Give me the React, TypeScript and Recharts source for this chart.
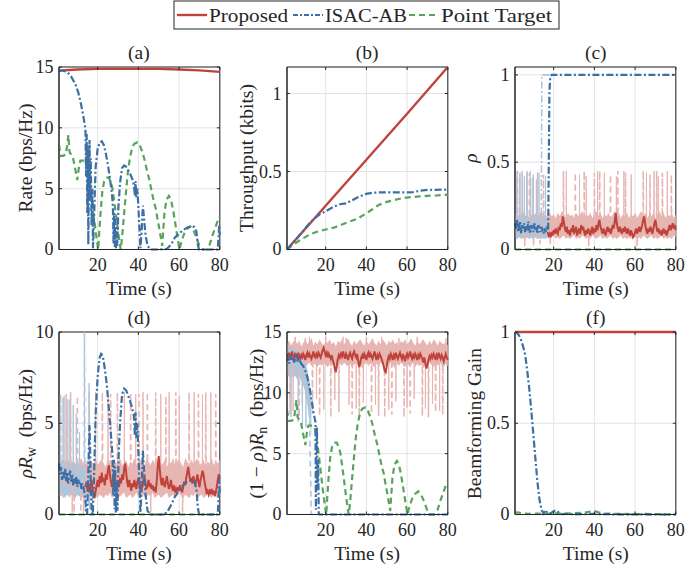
import React from 'react';
import { ComposedChart, Line, Area, XAxis, YAxis, CartesianGrid, ReferenceArea } from 'recharts';

// ---------- colours & styles ----------
const RED = '#c0433b';
const BLUE = '#3b6fa5';
const GREEN = '#5aa35a';
const PINK = '#e8b6b2';
const LBLUE = '#aec6dc';
const DASHDOT = '7 2.5 2 2.5';
const DASH = '6 4';
const TXT = '#262626';
const FONT = 'Liberation Serif';

// ---------- shared axis data ----------
const xTicks = [20, 40, 60, 80];
const xDomain = [1, 80];

// ---------- panel (a): rate ----------
const aRed = [[1, 14.7], [10, 14.8], [20, 14.85], [30, 14.85], [40, 14.85], [50, 14.85], [60, 14.8], [70, 14.72], [80, 14.6]];
const aBlue = [[1, 14.7], [3, 14.7], [5, 14.6], [7, 14.2], [9, 13.6], [10.5, 12.9], [12, 11.8], [13, 10.9], [14, 9.9], [14.3, 6], [14.6, 9.5], [14.9, 3], [15.2, 8.5], [15.4, 0.4], [15.7, 6], [16, 9], [16.3, 4], [16.6, 7.5], [17, 2], [17.4, 5], [17.7, 0.1], [18.2, 2.5], [19, 6.8], [20, 8.3], [21, 8.8], [22, 8.9], [23, 8.6], [24, 7.9], [25, 7.0], [26, 5.9], [27, 4.6], [27.5, 3.5], [27.8, 0.5], [28.1, 3.0], [28.4, 0.2], [28.7, 2.5], [29, 0.1], [29.3, 1.5], [29.6, 0.3], [30.2, 3.5], [31, 5.5], [32, 6.7], [33, 6.9], [34, 6.8], [35, 6.5], [36, 6.2], [37, 5.8], [37.8, 5.3], [38.3, 4.4], [38.6, 5.6], [39, 4.3], [39.5, 5.0], [40, 3.5], [40.5, 1.8], [41, 0.1], [41.6, 1.5], [42.2, 3.6], [42.8, 2.5], [43.5, 1.2], [44.5, 0.3], [46, 0], [50, 0], [54, 0.05], [56, 0.4], [58, 1.0], [60, 1.3], [62, 1.6], [64, 1.8], [66, 1.9], [67.5, 1.85], [68.5, 1.5], [69.2, 0.4], [69.8, 0], [79, 0], [79.4, 1.0], [79.7, 2.0], [80, 1.2]];
const ptGreen = [[1, 8.6], [1.8, 7.7], [3, 7.7], [4.3, 7.8], [5, 8.5], [5.6, 9.4], [6.2, 8.0], [7, 7.8], [7.8, 7.6], [8.5, 7.0], [9.2, 6.4], [10, 5.7], [10.8, 6.8], [11.5, 7.3], [12.5, 7.3], [14, 7.3], [15, 6.9], [15.8, 5.9], [16.6, 4.9], [17.4, 3.8], [18.2, 2.6], [19, 1.5], [19.8, 0.5], [20.3, 0], [20.8, 1.5], [21.5, 3.2], [22.3, 4.8], [23.2, 5.6], [24.2, 5.9], [25.5, 5.9], [26.5, 5.5], [27.3, 5.0], [28, 4.1], [28.9, 3.0], [29.7, 1.9], [30.5, 0.9], [31.3, 0], [32, 1.0], [32.8, 2.6], [33.8, 4.5], [34.8, 6.3], [35.8, 7.5], [37, 8.4], [38, 8.7], [39.5, 8.8], [40.8, 8.5], [42, 8.0], [43, 7.4], [44.2, 6.5], [45.3, 5.8], [46.5, 4.8], [47.5, 4.0], [48.5, 3.4], [49.3, 2.6], [50.2, 1.8], [51, 1.0], [51.7, 0.3], [52.2, 1.5], [52.8, 3.0], [53.8, 4.1], [55, 4.4], [56, 4.1], [57, 3.3], [58, 2.3], [59, 1.2], [60.2, 0], [61.2, 0.7], [62.5, 1.3], [64, 1.7], [65.5, 1.9], [67, 1.6], [68.5, 1.0], [70, 0.3], [71.5, 0], [73.5, 0], [75, 0.4], [76.5, 1.2], [78, 1.9], [79.3, 2.5], [80, 2.7]];

// ---------- panel (b): throughput ----------
const bRed = [[1, 0], [20, 0.28], [40, 0.575], [60, 0.87], [80, 1.17]];
const bBlue = [[1, 0], [5, 0.06], [9, 0.12], [12.5, 0.175], [15, 0.205], [17.4, 0.228], [20, 0.245], [24, 0.275], [27, 0.29], [30, 0.296], [33, 0.315], [36, 0.337], [40, 0.357], [43, 0.364], [46, 0.366], [55, 0.366], [60, 0.366], [63, 0.368], [66, 0.376], [70, 0.382], [80, 0.384]];
const bGreen = [[1, 0], [4, 0.03], [8, 0.065], [12, 0.095], [16, 0.115], [20, 0.128], [24, 0.14], [28, 0.16], [32, 0.18], [36, 0.2], [40, 0.232], [43, 0.258], [46, 0.285], [50, 0.305], [54, 0.318], [58, 0.33], [62, 0.336], [66, 0.34], [70, 0.344], [75, 0.347], [80, 0.352]];

// ---------- panel (c): rho ----------
const cPinkLo = [0.07, 0.06, 0.08, 0.07, 0.06, 0.07, 0.08, 0.06, 0.07, 0.06, 0.08, 0.07, 0.06, 0.07, 0.06, 0.08, 0.07, 0.06, 0.07, 0.08, 0.06, 0.07, 0.06, 0.07, 0.08, 0.06, 0.07, 0.06, 0.07, 0.08, 0.06, 0.07, 0.06, 0.08, 0.07, 0.06, 0.07, 0.06, 0.08, 0.07, 0.06, 0.07, 0.08, 0.06, 0.07, 0.06, 0.07, 0.08, 0.06, 0.07, 0.06, 0.07, 0.08, 0.06, 0.07, 0.06, 0.07, 0.06, 0.08, 0.07, 0.06, 0.07, 0.06, 0.08, 0.07, 0.06, 0.07, 0.08, 0.06, 0.07, 0.06, 0.07, 0.08, 0.06, 0.07, 0.06, 0.07, 0.06, 0.08, 0.07];
const cPinkHi = [0.19, 0.21, 0.18, 0.20, 0.22, 0.19, 0.21, 0.18, 0.20, 0.19, 0.21, 0.18, 0.20, 0.22, 0.19, 0.18, 0.20, 0.21, 0.19, 0.20, 0.18, 0.21, 0.19, 0.22, 0.20, 0.18, 0.21, 0.19, 0.20, 0.18, 0.21, 0.19, 0.20, 0.22, 0.18, 0.20, 0.19, 0.21, 0.18, 0.20, 0.22, 0.19, 0.21, 0.18, 0.20, 0.19, 0.21, 0.18, 0.20, 0.22, 0.19, 0.21, 0.18, 0.20, 0.19, 0.21, 0.18, 0.20, 0.19, 0.21, 0.18, 0.20, 0.22, 0.19, 0.21, 0.18, 0.20, 0.19, 0.21, 0.18, 0.20, 0.22, 0.19, 0.21, 0.18, 0.20, 0.19, 0.21, 0.18, 0.20];
const cLBlueLo = [0.07, 0.06, 0.07, 0.06, 0.08, 0.06, 0.07, 0.06, 0.07, 0.06, 0.07, 0.06, 0.07, 0.06, 0.07, 0.06, 0.07];
const cLBlueHi = [0.21, 0.19, 0.20, 0.18, 0.21, 0.19, 0.20, 0.18, 0.19, 0.21, 0.18, 0.20, 0.19, 0.18, 0.20, 0.19, 0.18];
const cPinkDash = [[1, 0.1], [2.1, 0.1], [2.2, 0.45], [2.4, 0.1], [5.7, 0.1], [5.8, 0.02], [6.0, 0.1], [8.0, 0.1], [8.1, 0.44], [8.3, 0.1], [10.0, 0.1], [10.1, 0.02], [10.3, 0.1], [13.2, 0.1], [13.3, 0.03], [13.5, 0.1], [14.9, 0.1], [15.0, 0.43], [15.2, 0.1], [18.2, 0.1], [18.3, 0.03], [18.5, 0.1], [24.7, 0.1], [24.8, 0.45], [25.0, 0.1], [30.5, 0.1], [30.6, 0.44], [30.8, 0.1], [34.9, 0.1], [35.0, 0.45], [35.2, 0.1], [37.1, 0.1], [37.2, 0.02], [37.4, 0.1], [39.9, 0.1], [40.0, 0.44], [40.2, 0.1], [42.5, 0.1], [42.6, 0.45], [42.8, 0.1], [47.8, 0.1], [47.9, 0.43], [48.1, 0.1], [51.4, 0.1], [51.5, 0.45], [51.7, 0.1], [55.2, 0.1], [55.3, 0.44], [55.5, 0.1], [60.9, 0.1], [61.0, 0.02], [61.2, 0.1], [63.9, 0.1], [64.0, 0.45], [64.2, 0.1], [67.2, 0.1], [67.3, 0.43], [67.5, 0.1], [70.5, 0.1], [70.6, 0.45], [70.8, 0.1], [73.3, 0.1], [73.4, 0.44], [73.6, 0.1], [77.7, 0.1], [77.8, 0.43], [78.0, 0.1], [80, 0.1]];
const cPinkSolid = [[1, 0.12], [1.6, 0.12], [1.7, 0.42], [1.8, 0.12], [3.4, 0.12], [3.5, 0.44], [3.6, 0.12], [4.6, 0.12], [4.7, 0.4], [4.8, 0.12], [6.9, 0.12], [7.0, 0.45], [7.1, 0.12], [9.4, 0.12], [9.5, 0.41], [9.6, 0.12], [11.9, 0.12], [12.0, 0.44], [12.1, 0.12], [26.1, 0.12], [26.2, 0.45], [26.3, 0.12], [32.6, 0.12], [32.7, 0.43], [32.8, 0.12], [35.9, 0.12], [36.0, 0.42], [36.1, 0.12], [41.5, 0.12], [41.6, 0.45], [41.7, 0.12], [44.8, 0.12], [44.9, 0.44], [45.0, 0.12], [50.7, 0.12], [50.8, 0.42], [50.9, 0.12], [54.4, 0.12], [54.5, 0.45], [54.6, 0.12], [58.0, 0.12], [58.1, 0.43], [58.2, 0.12], [65.5, 0.12], [65.6, 0.44], [65.7, 0.12], [69.2, 0.12], [69.3, 0.45], [69.4, 0.12], [71.3, 0.12], [71.4, 0.42], [71.5, 0.12], [75.7, 0.12], [75.8, 0.45], [75.9, 0.12], [80, 0.12]];
const cLBlueSpk = [[1, 0.12], [1.9, 0.12], [2.0, 0.45], [2.1, 0.12], [3.1, 0.12], [3.2, 0.43], [3.3, 0.12], [4.4, 0.12], [4.5, 0.45], [4.6, 0.12], [5.5, 0.12], [5.6, 0.42], [5.7, 0.12], [6.7, 0.12], [6.8, 0.44], [6.9, 0.12], [8.4, 0.12], [8.5, 0.45], [8.6, 0.12], [9.9, 0.12], [10.0, 0.43], [10.1, 0.12], [11.4, 0.12], [11.5, 0.4], [11.6, 0.12], [12.7, 0.12], [12.8, 0.44], [12.9, 0.12], [15.9, 0.12], [16.0, 0.42], [16.1, 0.12], [17.2, 0.12]];
const cLBlueJump = [[13.9, 0.12], [14.2, 1.0], [19, 1.0]];
const cRedMean = [0.10, 0.08, 0.09, 0.07, 0.10, 0.08, 0.11, 0.09, 0.12, 0.10, 0.09, 0.13, 0.11, 0.15, 0.13, 0.19, 0.16, 0.12, 0.10, 0.13, 0.09, 0.11, 0.08, 0.12, 0.10, 0.14, 0.09, 0.11, 0.13, 0.08, 0.10, 0.12, 0.09, 0.14, 0.11, 0.13, 0.10, 0.08, 0.11, 0.09, 0.12, 0.10, 0.08, 0.11, 0.13, 0.09, 0.12, 0.10, 0.14, 0.11, 0.15, 0.17, 0.13, 0.11, 0.09, 0.12, 0.10, 0.08, 0.11, 0.13, 0.10, 0.12, 0.09, 0.11, 0.14, 0.12, 0.16, 0.21, 0.15, 0.12, 0.10, 0.13, 0.11, 0.09, 0.12, 0.10, 0.13, 0.11, 0.09, 0.12, 0.10, 0.08, 0.11, 0.09, 0.07, 0.08, 0.10, 0.12, 0.09, 0.11, 0.13, 0.10, 0.12, 0.14, 0.17, 0.19, 0.14, 0.11, 0.09, 0.12, 0.10, 0.13, 0.11, 0.09, 0.12, 0.15, 0.17, 0.13, 0.10, 0.12, 0.09, 0.11, 0.08, 0.10, 0.12, 0.09, 0.11, 0.08, 0.10, 0.12, 0.14, 0.11, 0.13, 0.15, 0.12, 0.14, 0.11];
const cBlueNoisy = [0.15, 0.12, 0.17, 0.10, 0.13, 0.16, 0.09, 0.14, 0.12, 0.15, 0.10, 0.13, 0.11, 0.16, 0.12, 0.09, 0.14, 0.12, 0.10, 0.15, 0.11, 0.13, 0.09, 0.14, 0.12, 0.10, 0.13, 0.11, 0.09, 0.12, 0.10, 0.13, 0.11];
const cBlueTail = [[17.3, 0.12], [17.6, 0.5], [17.9, 0.9], [18.3, 0.985], [19, 1], [80, 1]];
const zeroLine = [[1, 0], [80, 0]];

// ---------- panel (d): rho * R_w ----------
const dPinkLo = [1.0, 1.1, 0.9, 1.0, 1.2, 0.9, 1.1, 1.0, 0.9, 1.1, 1.0, 1.2, 0.9, 1.0, 1.1, 0.9, 1.0, 1.2, 1.0, 0.9, 1.1, 1.0, 0.9, 1.1, 1.0, 1.2, 0.9, 1.0, 1.1, 0.9, 1.0, 1.1, 1.2, 0.9, 1.0, 1.1, 0.9, 1.0, 1.2, 1.0, 0.9, 1.1, 1.0, 0.9, 1.1, 1.0, 1.2, 0.9, 1.0, 1.1, 0.9, 1.0, 1.1, 1.2, 0.9, 1.0, 1.1, 0.9, 1.0, 1.2, 1.0, 0.9, 1.1, 1.0, 0.9, 1.1, 1.0, 1.2, 0.9, 1.0, 1.1, 0.9, 1.0, 1.2, 1.0, 0.9, 1.1, 1.0, 0.9, 1.1];
const dPinkHi = [2.8, 3.0, 2.7, 2.9, 3.1, 2.8, 2.6, 3.0, 2.8, 2.7, 2.9, 3.1, 2.7, 2.8, 3.0, 2.6, 2.9, 2.8, 3.1, 2.7, 2.9, 3.0, 2.8, 2.6, 3.1, 2.9, 2.7, 3.0, 2.8, 2.9, 3.1, 2.7, 2.8, 3.0, 2.6, 2.9, 2.8, 3.1, 2.7, 2.9, 3.0, 2.8, 2.6, 3.1, 2.9, 2.7, 3.0, 2.8, 2.9, 3.1, 2.7, 2.8, 3.0, 2.6, 2.9, 2.8, 3.1, 2.7, 2.9, 3.0, 2.8, 2.6, 3.1, 2.9, 2.7, 3.0, 2.8, 2.9, 3.1, 2.7, 2.8, 3.0, 2.6, 2.9, 2.8, 3.1, 2.7, 2.9, 2.8, 3.0];
const dLBlueLo = [1.1, 1.0, 1.2, 0.9, 1.1, 1.0, 1.2, 1.0, 0.9, 1.1, 1.0, 0.9, 1.0, 1.1];
const dLBlueHi = [3.1, 2.9, 3.0, 2.8, 3.1, 2.7, 2.9, 2.8, 2.6, 2.8, 2.5, 2.7, 2.4, 2.3];
const dPinkDash = [[1, 1.8], [1.7, 1.8], [1.8, 6.6], [2.0, 1.8], [6.6, 1.8], [6.7, 6.7], [6.9, 1.8], [8.3, 1.8], [8.4, 0.1], [8.6, 1.8], [9.9, 1.8], [10.0, 6.5], [10.2, 1.8], [11.6, 1.8], [11.7, 0.1], [11.9, 1.8], [15.7, 1.8], [15.8, 6.7], [16.0, 1.8], [17.3, 1.8], [17.4, 0.1], [17.6, 1.8], [22.2, 1.8], [22.3, 6.7], [22.5, 1.8], [26.3, 1.8], [26.4, 6.6], [26.6, 1.8], [29.6, 1.8], [29.7, 6.7], [29.9, 1.8], [36.1, 1.8], [36.2, 6.7], [36.4, 1.8], [40.2, 1.8], [40.3, 6.6], [40.5, 1.8], [44.3, 1.8], [44.4, 6.7], [44.6, 1.8], [48.4, 1.8], [48.5, 6.7], [48.7, 1.8], [53.4, 1.8], [53.5, 6.5], [53.7, 1.8], [58.3, 1.8], [58.4, 6.7], [58.6, 1.8], [61.6, 1.8], [61.7, 0.1], [61.9, 1.8], [64.8, 1.8], [64.9, 6.7], [65.1, 1.8], [69.4, 1.8], [69.5, 6.6], [69.7, 1.8], [73.0, 1.8], [73.1, 6.7], [73.3, 1.8], [77.9, 1.8], [78.0, 6.6], [78.2, 1.8], [80, 1.8]];
const dPinkSolid = [[1, 1.6], [3.4, 1.6], [3.5, 6.5], [3.6, 1.6], [4.9, 1.6], [5.0, 6.3], [5.1, 1.6], [7.4, 1.6], [7.5, 0.1], [7.6, 1.6], [12.9, 1.6], [13.0, 0.1], [13.1, 1.6], [18.9, 1.6], [19.0, 6.7], [19.1, 1.6], [25.0, 1.6], [25.1, 6.5], [25.2, 1.6], [33.0, 1.6], [33.1, 6.7], [33.2, 1.6], [38.6, 1.6], [38.7, 6.6], [38.8, 1.6], [42.2, 1.6], [42.3, 6.7], [42.4, 1.6], [46.0, 1.6], [46.1, 0.1], [46.2, 1.6], [50.9, 1.6], [51.0, 6.6], [51.1, 1.6], [55.0, 1.6], [55.1, 6.7], [55.2, 1.6], [60.0, 1.6], [60.1, 6.5], [60.2, 1.6], [67.3, 1.6], [67.4, 6.7], [67.5, 1.6], [71.4, 1.6], [71.5, 6.6], [71.6, 1.6], [75.5, 1.6], [75.6, 6.7], [75.7, 1.6], [80, 1.6]];
const dLBlueSpk = [[1, 1.9], [1.4, 1.9], [1.5, 6.6], [1.6, 1.9], [2.9, 1.9], [3.0, 6.4], [3.1, 1.9], [4.4, 1.9], [4.5, 6.6], [4.6, 1.9], [5.9, 1.9], [6.0, 6.3], [6.1, 1.9], [7.9, 1.9], [8.0, 6.0], [8.1, 1.9], [9.4, 1.9], [9.5, 5.5], [9.6, 1.9], [11.0, 1.9], [11.1, 4.5], [11.2, 1.9], [14, 1.5], [15.6, 0.5], [15.8, 7.2], [16.0, 0.3]];
const dLBlueJump = [[13.3, 1.5], [13.5, 10], [13.8, 0.2]];
const dRedMean = [1.5, 1.8, 1.3, 1.7, 1.2, 1.6, 1.9, 1.4, 1.1, 0.9, 1.3, 1.6, 1.9, 1.5, 2.1, 1.7, 2.3, 1.8, 2.0, 1.6, 2.2, 1.9, 2.4, 2.7, 2.2, 1.8, 1.5, 1.9, 1.6, 2.0, 1.7, 1.4, 1.8, 1.5, 2.0, 1.7, 2.2, 1.9, 2.5, 2.8, 2.3, 1.8, 1.5, 1.9, 1.6, 1.3, 1.7, 1.5, 1.9, 1.6, 1.4, 1.8, 2.0, 1.6, 1.3, 1.7, 1.5, 1.9, 2.1, 1.7, 1.4, 1.6, 1.9, 1.5, 1.7, 1.4, 1.6, 1.3, 1.5, 1.2, 1.8, 2.6, 3.2, 2.5, 1.9, 1.6, 2.0, 1.7, 1.5, 1.8, 2.1, 1.7, 1.4, 1.6, 1.9, 1.5, 1.3, 1.6, 1.2, 1.4, 1.2, 1.5, 1.3, 1.6, 1.4, 1.2, 1.5, 1.8, 1.6, 2.0, 2.3, 2.6, 2.2, 1.8, 2.0, 1.7, 2.1, 1.8, 1.6, 1.9, 2.2, 1.8, 1.5, 1.9, 2.1, 2.4, 2.2, 1.8, 1.5, 1.2, 1.3, 1.1, 1.3, 1.2, 1.4, 1.1, 1.3, 1.0, 1.2, 1.5, 1.9, 2.2, 2.0];
const dBlueNoisy = [2.8, 2.2, 2.6, 1.9, 2.4, 2.0, 2.5, 1.8, 2.3, 1.7, 2.1, 2.4, 1.8, 2.2, 1.6, 2.0, 1.7, 2.1, 1.5, 1.9, 1.6, 1.8, 1.4, 1.7, 1.5, 1.2, 0.8];
const dBlueTail = [[14.4, 0.1], [14.8, 0.0], [15.2, 1.5], [15.6, 3.2], [16, 4.9], [16.3, 3.5], [16.6, 1.5], [17, 0.2], [17.6, 0], [18.2, 2.0], [19, 5.5], [20, 7.6], [21, 8.6], [21.7, 8.8], [22.5, 8.7], [23.5, 8.0], [24.5, 7.1], [25.5, 5.8], [26.5, 4.4], [27.3, 3.2], [27.7, 1.0], [28, 3.0], [28.3, 0.3], [28.6, 2.6], [28.9, 0.1], [29.3, 1.8], [29.7, 0.2], [30.3, 3.2], [31, 5.0], [32, 6.6], [33, 6.9], [34, 6.8], [35, 6.5], [36, 6.2], [37, 5.8], [37.8, 5.4], [38.3, 4.3], [38.6, 5.6], [39, 4.2], [39.5, 5.0], [40, 3.4], [40.5, 1.7], [41, 0.1], [41.6, 1.4], [42.2, 3.5], [42.8, 2.4], [43.5, 1.1], [44.5, 0.2], [46, 0], [52, 0], [54, 0.1], [56, 0.5], [58, 1.0], [60, 1.3], [62, 1.6], [64, 1.8], [66, 1.9], [67.5, 1.8], [68.5, 1.4], [69.2, 0.4], [69.8, 0], [79, 0], [79.4, 1.0], [79.7, 2.0], [80, 1.2]];

// ---------- panel (e): (1-rho) * R_n ----------
const ePinkLo = [12.3, 12.5, 12.2, 12.4, 12.1, 12.5, 12.3, 12.2, 12.4, 12.0, 12.3, 12.5, 12.2, 12.4, 12.3, 12.1, 12.4, 12.2, 12.5, 12.3, 12.1, 12.4, 12.2, 12.5, 12.3, 12.0, 12.4, 12.2, 12.5, 12.3, 12.2, 12.4, 12.1, 12.3, 12.5, 12.2, 12.4, 12.0, 12.3, 12.5, 12.2, 12.4, 12.3, 12.1, 12.4, 12.2, 12.5, 12.3, 12.1, 12.4, 12.2, 12.5, 12.3, 12.0, 12.4, 12.2, 12.5, 12.3, 12.1, 12.4, 12.2, 12.3, 12.5, 12.1, 12.4, 12.2, 12.3, 12.0, 12.4, 12.2, 12.5, 12.3, 12.1, 12.4, 12.2, 12.5, 12.3, 12.1, 12.4, 12.2];
const ePinkHi = [14.0, 14.3, 13.9, 14.2, 14.4, 14.0, 14.3, 13.8, 14.1, 14.4, 14.0, 14.2, 14.5, 13.9, 14.2, 14.0, 14.4, 14.1, 13.9, 14.3, 14.1, 14.4, 14.0, 14.2, 13.8, 14.3, 14.1, 14.4, 14.0, 14.2, 14.5, 14.1, 13.9, 14.3, 14.0, 14.2, 14.4, 14.1, 13.9, 14.3, 14.0, 14.2, 14.5, 14.1, 13.9, 14.3, 14.0, 14.4, 14.2, 13.9, 14.3, 14.1, 14.4, 14.0, 14.2, 13.8, 14.3, 14.1, 14.4, 14.0, 14.2, 14.5, 14.1, 13.9, 14.3, 14.0, 14.2, 14.4, 14.1, 13.9, 14.3, 14.0, 14.4, 14.2, 13.9, 14.3, 14.1, 14.0, 14.2, 13.9];
const eLBlueLo = [11.5, 11.3, 11.6, 11.2, 11.4, 11.1, 11.3, 11.0, 10.6, 10.0, 9.0, 7.8, 6.5];
const eLBlueHi = [13.7, 13.7, 13.6, 13.7, 13.6, 13.5, 13.4, 13.2, 12.9, 12.5, 11.9, 11.0, 9.5];
const ePinkDash = [[1, 13], [2.4, 13], [2.5, 8.2], [2.7, 13], [4.9, 13], [5.0, 14.6], [5.2, 13], [6.9, 13], [7.0, 8.0], [7.2, 13], [9.9, 13], [10.0, 14.5], [10.2, 13], [13.4, 13], [13.5, 8.3], [13.7, 13], [16.9, 13], [17.0, 8.1], [17.2, 13], [19.9, 13], [20.0, 14.6], [20.2, 13], [22.4, 13], [22.5, 8.0], [22.7, 13], [26.4, 13], [26.5, 8.4], [26.7, 13], [29.9, 13], [30.0, 14.5], [30.2, 13], [32.9, 13], [33.0, 8.2], [33.2, 13], [36.4, 13], [36.5, 8.0], [36.7, 13], [39.9, 13], [40.0, 14.6], [40.2, 13], [42.4, 13], [42.5, 8.3], [42.7, 13], [45.9, 13], [46.0, 8.1], [46.2, 13], [48.9, 13], [49.0, 8.0], [49.2, 13], [52.4, 13], [52.5, 8.2], [52.7, 13], [55.9, 13], [56.0, 14.5], [56.2, 13], [58.4, 13], [58.5, 8.0], [58.7, 13], [61.4, 13], [61.5, 8.3], [61.7, 13], [64.9, 13], [65.0, 14.6], [65.2, 13], [67.4, 13], [67.5, 8.1], [67.7, 13], [70.4, 13], [70.5, 8.0], [70.7, 13], [73.9, 13], [74.0, 8.4], [74.2, 13], [77.4, 13], [77.5, 8.2], [77.7, 13], [80, 13]];
const ePinkSolid = [[1, 13.2], [3.9, 13.2], [4.0, 8.5], [4.1, 13.2], [8.4, 13.2], [8.5, 9.0], [8.6, 13.2], [11.9, 13.2], [12.0, 14.6], [12.1, 13.2], [15.4, 13.2], [15.5, 9.5], [15.6, 13.2], [19.0, 13.2], [19.1, 8.6], [19.2, 13.2], [24.4, 13.2], [24.5, 9.4], [24.6, 13.2], [28.4, 13.2], [28.5, 14.6], [28.6, 13.2], [31.4, 13.2], [31.5, 9.0], [31.6, 13.2], [34.9, 13.2], [35.0, 8.7], [35.1, 13.2], [38.4, 13.2], [38.5, 9.2], [38.6, 13.2], [44.4, 13.2], [44.5, 9.0], [44.6, 13.2], [47.4, 13.2], [47.5, 14.6], [47.6, 13.2], [50.9, 13.2], [51.0, 8.6], [51.1, 13.2], [54.4, 13.2], [54.5, 9.3], [54.6, 13.2], [59.9, 13.2], [60.0, 8.8], [60.1, 13.2], [63.4, 13.2], [63.5, 9.5], [63.6, 13.2], [68.9, 13.2], [69.0, 8.7], [69.1, 13.2], [72.4, 13.2], [72.5, 9.1], [72.6, 13.2], [75.9, 13.2], [76.0, 8.5], [76.1, 13.2], [79.0, 13.2], [79.1, 14.5], [79.2, 13.2], [80, 13.2]];
const eLBlueSpk = [[1, 12.5], [2.9, 12.5], [3.0, 8.0], [3.1, 12.5], [6.4, 12.4], [6.5, 7.6], [6.6, 12.4], [8.5, 12.2], [8.6, 7.4], [8.7, 12.2], [10.2, 11.5], [10.3, 7.2], [10.4, 11.5]];
const eLBlueDash = [[11.5, 11], [12.2, 7], [12.6, 3], [12.9, 0], [16, 0]];
const eRedMean = [13.2, 13.0, 13.3, 12.9, 13.1, 13.4, 13.0, 12.8, 13.2, 13.1, 12.9, 13.3, 13.0, 12.8, 13.1, 12.9, 13.2, 13.0, 12.7, 13.1, 13.3, 12.9, 13.2, 13.0, 12.8, 13.1, 13.4, 13.0, 12.9, 13.2, 13.0, 13.3, 13.1, 12.9, 13.2, 13.5, 13.7, 13.4, 13.1, 13.3, 12.9, 13.2, 13.0, 12.8, 13.1, 12.7, 12.4, 12.0, 11.7, 12.3, 12.8, 13.1, 12.9, 13.2, 13.0, 13.4, 13.1, 12.8, 13.2, 13.0, 12.7, 13.1, 13.3, 13.0, 12.8, 13.2, 13.4, 13.1, 12.9, 13.2, 12.6, 12.1, 12.5, 12.9, 13.1, 12.8, 13.2, 13.0, 12.7, 13.1, 13.3, 12.9, 13.2, 13.0, 12.8, 13.1, 13.4, 13.0, 12.7, 13.1, 12.9, 13.2, 13.0, 12.8, 12.5, 12.2, 11.8, 11.7, 12.2, 12.7, 13.0, 12.8, 13.2, 13.0, 12.7, 13.1, 12.9, 13.3, 13.0, 12.8, 13.1, 13.3, 13.0, 12.8, 13.2, 12.9, 12.6, 13.0, 13.2, 12.9, 13.1, 13.4, 13.0, 12.8, 13.1, 12.9, 13.2, 13.0, 12.7, 13.1, 12.9, 13.2, 13.0, 12.8, 12.5, 12.9, 12.4, 12.0, 12.3, 12.7, 13.0, 12.8, 13.1, 12.9, 13.2, 13.0, 12.7, 13.1, 12.9, 13.3, 13.0, 12.8, 13.1, 12.9, 12.6, 12.9, 13.2, 12.9, 12.7];
const eBlueNoisy = [12.6, 12.9, 12.4, 12.8, 13.0, 12.6, 12.9, 12.5, 12.8, 13.0, 12.6, 12.9, 12.5, 12.7, 12.4];
const eBlueTail = [[9, 12.2], [10, 11.8], [11, 11.3], [12, 10.5], [13, 9.5], [14, 8.4], [14.6, 7.9], [15, 7.6], [15.2, 0.4], [15.4, 5.5], [15.7, 7.2], [16, 2.0], [16.3, 4.5], [16.6, 0.1], [17, 0], [80, 0]];

// ---------- panel (f): beamforming gain ----------
const fRed = [[1, 1], [20, 1], [40, 1], [60, 1], [80, 1]];
const fBlue = [[1, 1.0], [2, 0.995], [3, 0.98], [4, 0.955], [5, 0.92], [6, 0.875], [7, 0.79], [8, 0.69], [9, 0.57], [10, 0.44], [11, 0.31], [12, 0.18], [13, 0.085], [14, 0.025], [15, 0.005], [16, 0.025], [17, 0.005], [18, 0.003], [19, 0.01], [20, 0.018], [21, 0.022], [22, 0.015], [23, 0.006], [24, 0.002], [26, 0.003], [30, 0.002], [40, 0.003], [50, 0.001], [60, 0.001], [70, 0], [80, 0]];
const fGreen = [[1, 0.012], [3, 0.01], [5, 0.006], [8, 0.004], [12, 0.005], [16, 0.003], [20, 0.006], [25, 0.004], [30, 0.007], [35, 0.01], [38, 0.016], [40, 0.02], [42, 0.012], [45, 0.006], [50, 0.004], [55, 0.003], [60, 0.002], [65, 0.003], [70, 0.002], [75, 0.001], [80, 0.001]];

// ---------- builders ----------
const pts = (arr: number[][]) => arr.map(([t, v]) => ({ t, v }));
const stepped = (t0: number, dt: number, vals: number[]) => vals.map((v, i) => ({ t: t0 + i * dt, v }));
const band = (t0: number, lo: number[], hi: number[]) => lo.map((l, i) => ({ t: t0 + i, v: [l, hi[i]] }));

// ---------- layout ----------
const PW = 160.8;
const PH = 182.5;
const ML = 58;
const MT = 30;
const MR = 12;
const MB = 50;
const COLS = [58.5, 286.7, 515.4];
const ROWS = [66.7, 331.7];

const tickStyle = { fontFamily: FONT, fontSize: 18, fill: TXT } as any;

const XTick = (props: any) => {
  const { x, y, payload } = props;
  return (
    <g>
      <line x1={x} y1={y} x2={x} y2={y - 3} stroke={TXT} />
      <line x1={x} y1={y - PH} x2={x} y2={y - PH + 3} stroke={TXT} />
      <text x={x} y={y + 22} textAnchor="middle" style={tickStyle}>{payload.value}</text>
    </g>
  );
};
const YTick = (props: any) => {
  const { x, y, payload } = props;
  return (
    <g>
      <line x1={x} y1={y} x2={x + 3} y2={y} stroke={TXT} />
      <line x1={x + PW - 3} y1={y} x2={x + PW} y2={y} stroke={TXT} />
      <text x={x - 5.5} y={y + 6} textAnchor="end" style={tickStyle}>{payload.value}</text>
    </g>
  );
};

function Panel({ col, row, ymax, yticks, children }: any) {
  return (
    <div style={{ position: 'absolute', left: COLS[col] - ML, top: ROWS[row] - MT }}>
      <ComposedChart width={ML + PW + MR} height={MT + PH + MB} margin={{ top: MT, right: MR, bottom: 0, left: 0 }}>
        <CartesianGrid stroke="#e3e3e3" strokeWidth={1} />
        <XAxis type="number" dataKey="t" domain={xDomain} ticks={xTicks} interval={0} height={MB} tickLine={false} tickSize={0} tickMargin={0} tick={(p: any) => <XTick {...p} />} axisLine={{ stroke: TXT }} />
        <YAxis type="number" domain={[0, ymax]} ticks={yticks} interval={0} width={ML} tickLine={false} tickSize={0} tickMargin={0} tick={(p: any) => <YTick {...p} />} axisLine={{ stroke: TXT }} />
        <ReferenceArea x1={1} x2={80} y1={0} y2={ymax} fill="none" stroke={TXT} strokeWidth={1} ifOverflow="visible" />
        {children}
      </ComposedChart>
    </div>
  );
}

const ln = (data: any[], color: string, width: number, dash?: string) => (
  <Line data={data} dataKey="v" type="linear" stroke={color} strokeWidth={width} strokeDasharray={dash} dot={false} activeDot={false} isAnimationActive={false} />
);
const ar = (data: any[], color: string) => (
  <Area data={data} dataKey="v" type="linear" stroke="none" fill={color} fillOpacity={1} isAnimationActive={false} />
);

export default function App() {
  const plotCx = (c: number) => COLS[c] + PW / 2;
  const titleY = (r: number) => ROWS[r] - 8;
  const xlabY = (r: number) => ROWS[r] + PH + 46;
  const titles = ['(a)', '(b)', '(c)', '(d)', '(e)', '(f)'];
  const lab = { fontSize: 19.5, fontFamily: FONT, fill: TXT } as any;
  const leg = { fontSize: 19, fontFamily: FONT, fill: TXT } as any;
  return (
    <div style={{ position: 'absolute', left: 0, top: 0, width: 699, height: 567, background: '#fff', overflow: 'hidden', fontFamily: FONT }}>
      <Panel col={0} row={0} ymax={15} yticks={[0, 5, 10, 15]}>
        {ln(pts(aRed), RED, 2.4)}
        {ln(pts(ptGreen), GREEN, 2.2, DASH)}
        {ln(pts(aBlue), BLUE, 2.2, DASHDOT)}
      </Panel>
      <Panel col={1} row={0} ymax={1.17} yticks={[0, 0.5, 1]}>
        {ln(pts(bRed), RED, 2.4)}
        {ln(pts(bGreen), GREEN, 2.2, DASH)}
        {ln(pts(bBlue), BLUE, 2.2, DASHDOT)}
      </Panel>
      <Panel col={2} row={0} ymax={1.045} yticks={[0, 0.5, 1]}>
        {ar(band(1, cPinkLo, cPinkHi), PINK)}
        {ln(pts(cPinkDash), PINK, 1.6, DASH)}
        {ln(pts(cPinkSolid), PINK, 1)}
        {ar(band(1, cLBlueLo, cLBlueHi), LBLUE)}
        {ln(pts(cLBlueSpk), LBLUE, 1)}
        {ln(pts(cLBlueJump), LBLUE, 1.6, DASHDOT)}
        {ln(stepped(17, 0.5, cRedMean), RED, 2)}
        {ln(pts(zeroLine), GREEN, 2.2, DASH)}
        {ln([...stepped(1, 0.5, cBlueNoisy), ...pts(cBlueTail)], BLUE, 2.2, DASHDOT)}
      </Panel>
      <Panel col={0} row={1} ymax={10} yticks={[0, 5, 10]}>
        {ar(band(1, dPinkLo, dPinkHi), PINK)}
        {ln(pts(dPinkDash), PINK, 1.6, DASH)}
        {ln(pts(dPinkSolid), PINK, 1)}
        {ar(band(1, dLBlueLo, dLBlueHi), LBLUE)}
        {ln(pts(dLBlueSpk), LBLUE, 1)}
        {ln(pts(dLBlueJump), LBLUE, 1.6, DASH)}
        {ln(stepped(14, 0.5, dRedMean), RED, 2)}
        {ln(pts(zeroLine), GREEN, 2.2, DASH)}
        {ln([...stepped(1, 0.5, dBlueNoisy), ...pts(dBlueTail)], BLUE, 2.2, DASHDOT)}
      </Panel>
      <Panel col={1} row={1} ymax={15} yticks={[0, 5, 10, 15]}>
        {ar(band(1, ePinkLo, ePinkHi), PINK)}
        {ln(pts(ePinkDash), PINK, 1.6, DASH)}
        {ln(pts(ePinkSolid), PINK, 1)}
        {ar(band(1, eLBlueLo, eLBlueHi), LBLUE)}
        {ln(pts(eLBlueSpk), LBLUE, 1)}
        {ln(pts(eLBlueDash), LBLUE, 1.6, DASH)}
        {ln(stepped(1, 0.5, eRedMean), RED, 2)}
        {ln(pts(ptGreen), GREEN, 2.2, DASH)}
        {ln([...stepped(1, 0.5, eBlueNoisy), ...pts(eBlueTail)], BLUE, 2.2, DASHDOT)}
      </Panel>
      <Panel col={2} row={1} ymax={1} yticks={[0, 0.5, 1]}>
        {ln(pts(fRed), RED, 2.4)}
        {ln(pts(fGreen), GREEN, 2.2, DASH)}
        {ln(pts(fBlue), BLUE, 2.2, DASHDOT)}
      </Panel>

      <svg width={699} height={567} style={{ position: 'absolute', left: 0, top: 0, pointerEvents: 'none', fontFamily: FONT }}>
        {titles.map((s, i) => (
          <text key={s} x={plotCx(i % 3)} y={titleY(Math.floor(i / 3))} textAnchor="middle" style={lab}>{s}</text>
        ))}
        {[0, 1, 2, 3, 4, 5].map((i) => (
          <text key={'x' + i} x={plotCx(i % 3)} y={xlabY(Math.floor(i / 3))} textAnchor="middle" style={lab}>Time (s)</text>
        ))}
        <text transform="translate(31.5,158) rotate(-90)" textAnchor="middle" style={lab}>Rate (bps/Hz)</text>
        <text transform="translate(253,158) rotate(-90)" textAnchor="middle" style={lab}>Throughput (kbits)</text>
        <text transform="translate(477,158) rotate(-90)" textAnchor="middle" style={{ ...lab, fontStyle: 'italic' }}>ρ</text>
        <text transform="translate(31.5,423.6) rotate(-90)" textAnchor="middle" style={lab}>
          <tspan style={{ fontStyle: 'italic' }}>ρR</tspan>
          <tspan style={{ fontSize: 14 }} dy={4}>w</tspan>
          <tspan dy={-4}>{'\u00a0\u00a0(bps/Hz)'}</tspan>
        </text>
        <text transform="translate(263,423.6) rotate(-90)" textAnchor="middle" style={lab}>
          <tspan>{'(1 \u2212 '}</tspan>
          <tspan style={{ fontStyle: 'italic' }}>ρ</tspan>
          <tspan>)</tspan>
          <tspan style={{ fontStyle: 'italic' }}>R</tspan>
          <tspan style={{ fontSize: 14 }} dy={4}>n</tspan>
          <tspan dy={-4}>{'\u00a0\u00a0(bps/Hz)'}</tspan>
        </text>
        <text transform="translate(481,423.6) rotate(-90)" textAnchor="middle" style={lab}>Beamforming Gain</text>

        {/* legend */}
        <rect x={174} y={1} width={385} height={28} fill="#fff" stroke={TXT} strokeWidth={1} />
        <line x1={177} y1={15} x2={207} y2={15} stroke={RED} strokeWidth={2.4} />
        <text x={209} y={21.5} style={leg} textLength={79} lengthAdjust="spacingAndGlyphs">Proposed</text>
        <line x1={293} y1={15} x2={323} y2={15} stroke={BLUE} strokeWidth={2.2} strokeDasharray="5 2 2 2" />
        <text x={325} y={21.5} style={leg} textLength={82} lengthAdjust="spacingAndGlyphs">ISAC-AB</text>
        <line x1={409} y1={15} x2={439} y2={15} stroke={GREEN} strokeWidth={2.2} strokeDasharray="6 4" />
        <text x={441} y={21.5} style={leg} textLength={111} lengthAdjust="spacingAndGlyphs">Point Target</text>
      </svg>
    </div>
  );
}
